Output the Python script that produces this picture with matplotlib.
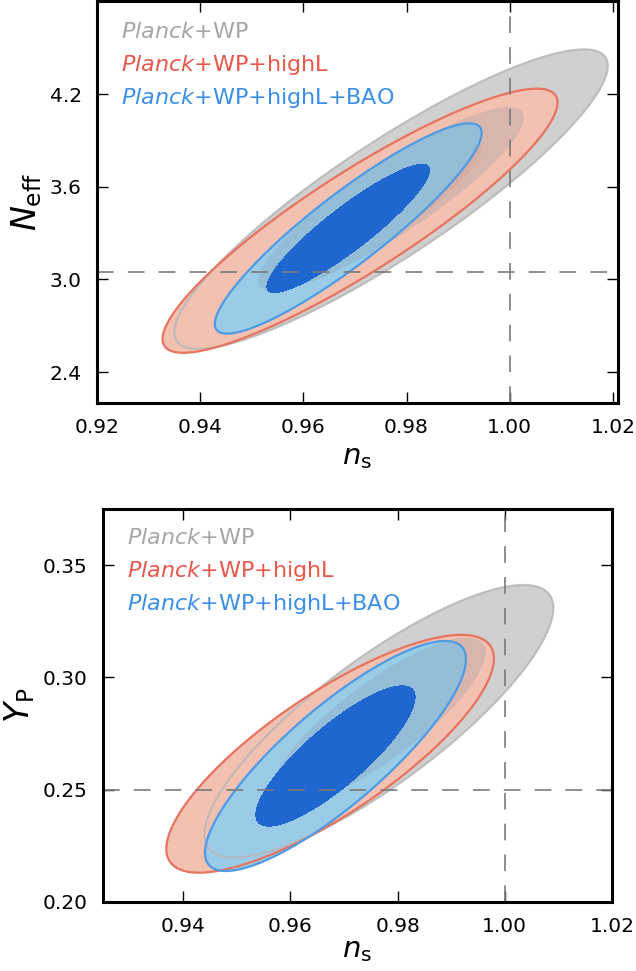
import matplotlib
matplotlib.use('Agg')
import matplotlib.pyplot as plt
import numpy as np

## 데이터셋 이름
labels = ['$\\mathit{Planck}$+WP',
          '$\\mathit{Planck}$+WP+highL',
          '$\\mathit{Planck}$+WP+highL+BAO']

## 위 패널 (n_s - N_eff) : 평균, 표준편차, 상관계수
neff_ns_mean = [0.9770, 0.9710, 0.9687]
neff_ns_sig = [0.0169, 0.0154, 0.0104]
neff_mean = [3.52, 3.38, 3.33]
neff_sig = [0.390, 0.344, 0.274]
neff_rho = [0.890, 0.895, 0.908]

## 아래 패널 (n_s - Y_P)
yp_ns_mean = [0.9765, 0.9674, 0.9684]
yp_ns_sig = [0.0131, 0.0123, 0.0098]
yp_mean = [0.2805, 0.2660, 0.2650]
yp_sig = [0.0244, 0.0213, 0.0206]
yp_rho = [0.83, 0.80, 0.84]

## 기준선
neff_ref = 3.046
yp_ref = 0.25
ns_ref = 1.0

## 색상
text_colors = ['#a6a6a6', '#e8574a', '#3b8fe8']
outer_colors = ['#d0d0d0', '#f2c1b1', '#9acbe7']
edge_colors = ['#b8b8b8', '#e8735f', '#4f9be6']
red_inner = '#efb7a6'
grey_inner = '#7f8f9f'
blue_inner = '#1f66cf'

## 2D 가우시안 chi2 레벨 (68%, 95%)
lev68, lev95 = 2.30, 6.18

plt.rcParams['mathtext.fontset'] = 'dejavusans'
plt.rcParams['font.family'] = 'DejaVu Sans'


def chi2_grid(X, Y, mx, sx, my, sy, rho):
    dx = (X - mx) / sx
    dy = (Y - my) / sy
    return (dx**2 - 2*rho*dx*dy + dy**2) / (1 - rho**2)


def draw_panel(ax, xlim, ylim, mx, sx, my, sy, rho, yref, xticks, yticks, yfmt, ylabel, xpad):
    X, Y = np.meshgrid(np.linspace(xlim[0], xlim[1], 500),
                       np.linspace(ylim[0], ylim[1], 500))
    c = [chi2_grid(X, Y, mx[i], sx[i], my[i], sy[i], rho[i]) for i in range(3)]

    ## 95% 영역
    ax.contourf(X, Y, c[0], levels=[0, lev95], colors=[outer_colors[0]], zorder=1)
    ax.contourf(X, Y, c[1], levels=[0, lev95], colors=[outer_colors[1]], zorder=2)
    ax.contourf(X, Y, c[1], levels=[0, lev68], colors=[red_inner], zorder=3)
    ax.contourf(X, Y, c[2], levels=[0, lev95], colors=[outer_colors[2]], zorder=4)
    ## 68% 영역
    ax.contourf(X, Y, c[0], levels=[0, lev68], colors=[grey_inner], alpha=0.22, zorder=5)
    ax.contourf(X, Y, c[2], levels=[0, lev68], colors=[blue_inner], zorder=6)

    ## 외곽선
    ax.contour(X, Y, c[0], levels=[lev95], colors=[edge_colors[0]], linewidths=1.6, alpha=0.8, zorder=7)
    ax.contour(X, Y, c[1], levels=[lev95], colors=[edge_colors[1]], linewidths=1.6, zorder=8)
    ax.contour(X, Y, c[2], levels=[lev95], colors=[edge_colors[2]], linewidths=1.6, zorder=9)

    ## 기준 점선
    ax.axhline(yref, color='#7a7a7a', lw=1.2, ls=(0, (10, 8.5)), zorder=10)
    ax.axvline(ns_ref, color='#7a7a7a', lw=1.2, ls=(0, (10, 8.5)), zorder=10)

    ## 범례 텍스트
    for i in range(3):
        ax.text(0.047, 0.925 - i*0.083, labels[i], color=text_colors[i], fontsize=16,
                transform=ax.transAxes, va='center', ha='left', zorder=11)

    ax.set_xlim(xlim)
    ax.set_ylim(ylim)
    ax.set_xticks(xticks)
    ax.set_yticks(yticks)
    ax.set_xticklabels(['%.2f' % t for t in xticks])
    ax.set_yticklabels([yfmt % t for t in yticks])
    ax.tick_params(direction='in', top=True, right=True, length=8, width=1,
                   labelsize=14.5)
    ax.tick_params(axis='x', pad=11)
    ax.tick_params(axis='y', pad=11)
    for s in ax.spines.values():
        s.set_linewidth(2.2)
        s.set_zorder(12)
    ax.set_xlabel('$n_{\\rm s}$', fontsize=21, labelpad=xpad)
    ax.set_ylabel(ylabel, fontsize=24, labelpad=4)


fig = plt.figure(figsize=(6.36, 9.71), dpi=100)
ax1 = fig.add_axes([0.1525, 0.585, 0.8192, 0.4135])
ax2 = fig.add_axes([0.162, 0.0711, 0.800, 0.4047])

draw_panel(ax1, (0.92, 1.021), (2.2, 4.8), neff_ns_mean, neff_ns_sig, neff_mean, neff_sig,
           neff_rho, neff_ref, [0.92, 0.94, 0.96, 0.98, 1.00, 1.02], [2.4, 3.0, 3.6, 4.2],
           '%.1f', '$N_{\\rm eff}$', 4)
draw_panel(ax2, (0.925, 1.02), (0.20, 0.375), yp_ns_mean, yp_ns_sig, yp_mean, yp_sig,
           yp_rho, yp_ref, [0.94, 0.96, 0.98, 1.00, 1.02], [0.20, 0.25, 0.30, 0.35],
           '%.2f', '$Y_{\\rm P}$', 0)

plt.savefig('out.png', dpi=100)
